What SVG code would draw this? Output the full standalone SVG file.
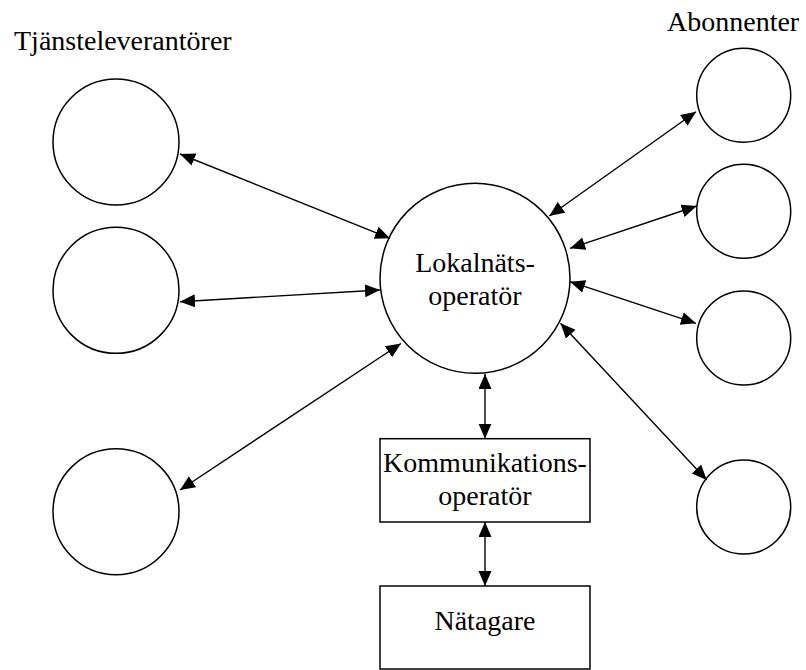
<svg xmlns="http://www.w3.org/2000/svg" width="806" height="670" viewBox="0 0 806 670">
<style>
.n{fill:#fff;stroke:#000;stroke-width:1.5}
.lbl{font-family:'Liberation Serif','Times New Roman',serif;font-size:28px;fill:#000}
.mid{text-anchor:middle}
.e{stroke:#000;stroke-width:1.4;fill:none;marker-start:url(#ah);marker-end:url(#ah)}
</style>
<defs>
<marker id="ah" markerUnits="userSpaceOnUse" markerWidth="16" markerHeight="14" refX="15" refY="6.5" orient="auto-start-reverse">
<path d="M0,0 L15,6.5 L0,13 z" fill="#000"/>
</marker>
</defs>
<rect width="806" height="670" fill="#fff"/>
<text class="lbl" x="14" y="50">Tjänsteleverantörer</text>
<text class="lbl" x="667" y="30.5">Abonnenter</text>
<g id="lev1"><circle class="n" cx="116" cy="142" r="63"/></g>
<g id="lev2"><circle class="n" cx="116" cy="290.3" r="63"/></g>
<g id="lev3"><circle class="n" cx="116" cy="511.7" r="63"/></g>
<g id="lokal"><circle class="n" cx="475" cy="278.3" r="95"/>
<text class="lbl mid" x="475" y="271.7">Lokalnäts-</text>
<text class="lbl mid" x="475" y="305">operatör</text></g>
<g id="komm"><rect class="n" x="380" y="438.7" width="210" height="83.3"/>
<text class="lbl mid" x="485" y="471.7">Kommunikations-</text>
<text class="lbl mid" x="485" y="505">operatör</text></g>
<g id="nat"><rect class="n" x="380" y="586" width="210" height="83"/>
<text class="lbl mid" x="485" y="630">Nätagare</text></g>
<g id="ab1"><circle class="n" cx="743.7" cy="95.2" r="47"/></g>
<g id="ab2"><circle class="n" cx="743.7" cy="211.3" r="47"/></g>
<g id="ab3"><circle class="n" cx="743.7" cy="338" r="47"/></g>
<g id="ab4"><circle class="n" cx="743.7" cy="507" r="47"/></g>
<g id="connectors">
<line class="e" x1="180" y1="154" x2="390" y2="238.3"/>
<line class="e" x1="180" y1="301.7" x2="380" y2="290"/>
<line class="e" x1="180" y1="490" x2="401" y2="343.5"/>
<line class="e" x1="549.3" y1="216" x2="696" y2="111.7"/>
<line class="e" x1="570" y1="248.3" x2="696.7" y2="206"/>
<line class="e" x1="570" y1="281.7" x2="696" y2="323.3"/>
<line class="e" x1="560.5" y1="323.3" x2="706.7" y2="480"/>
<line class="e" x1="485" y1="374" x2="485" y2="438.7"/>
<line class="e" x1="485" y1="522" x2="485" y2="586"/>
</g>
</svg>
